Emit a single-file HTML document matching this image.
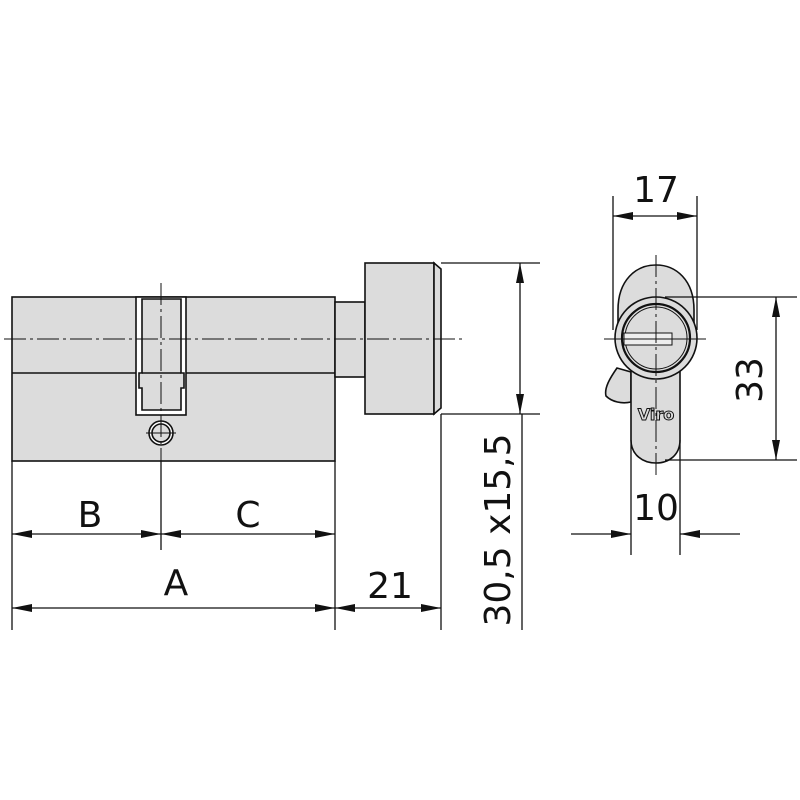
<!DOCTYPE html>
<html><head><meta charset="utf-8"><style>
html,body{margin:0;padding:0;background:#fff;}
svg{display:block;}
text{font-family:"DejaVu Sans","Liberation Sans",sans-serif;fill:#111;}
</style></head><body>
<svg width="800" height="800" viewBox="0 0 800 800" xmlns="http://www.w3.org/2000/svg">
<defs>
<marker id="ar" viewBox="0 0 20 8" refX="20" refY="4" markerWidth="20" markerHeight="8" markerUnits="userSpaceOnUse" orient="auto-start-reverse">
<path d="M0,0 L20,4 L0,8 z" fill="#111"/></marker>
</defs>
<g stroke="#111" stroke-width="1.6" fill="#dcdcdc">
<!-- body -->
<rect x="12" y="297" width="323" height="164"/>
<line x1="12" y1="373" x2="136" y2="373"/>
<line x1="186" y1="373" x2="335" y2="373"/>
<!-- slot -->
<rect x="136" y="297" width="50" height="118" fill="#fff"/>
<path d="M142,299 L181,299 L181,373 L184,373 L184,388 L181,388 L181,410 L142,410 L142,388 L139,388 L139,373 L142,373 Z" fill="#dcdcdc"/>
<line x1="142" y1="373" x2="181" y2="373"/>
<!-- pin -->
<circle cx="161" cy="433" r="12" fill="#fff"/>
<circle cx="161" cy="433" r="9"/>
<!-- neck -->
<rect x="335" y="302" width="30" height="75"/>
<!-- knob -->
<rect x="365" y="263" width="69" height="151"/>
<path d="M434,263 L441,269 L441,408 L434,414 Z"/>
</g>
<!-- center lines -->
<g stroke="#111" stroke-width="1" stroke-dasharray="22,4,3,4" fill="none">
<line x1="4" y1="339" x2="466" y2="339"/>
<line x1="161" y1="283" x2="161" y2="470"/>
</g>
<line x1="146" y1="433" x2="176" y2="433" stroke="#111" stroke-width="1"/>
<!-- dims left -->
<g stroke="#111" stroke-width="1.3" fill="none">
<line x1="12" y1="461" x2="12" y2="630"/>
<line x1="161" y1="461" x2="161" y2="550"/>
<line x1="335" y1="461" x2="335" y2="630"/>
<line x1="441" y1="414" x2="441" y2="630"/>
<line x1="12" y1="534" x2="161" y2="534" marker-start="url(#ar)" marker-end="url(#ar)"/>
<line x1="161" y1="534" x2="335" y2="534" marker-start="url(#ar)" marker-end="url(#ar)"/>
<line x1="12" y1="608" x2="335" y2="608" marker-start="url(#ar)" marker-end="url(#ar)"/>
<line x1="335" y1="608" x2="441" y2="608" marker-start="url(#ar)" marker-end="url(#ar)"/>
<line x1="441" y1="263" x2="540" y2="263"/>
<line x1="441" y1="414" x2="540" y2="414"/>
<line x1="520" y1="263" x2="520" y2="414" marker-start="url(#ar)" marker-end="url(#ar)"/>
<line x1="522" y1="414" x2="522" y2="630"/>
</g>
<g font-size="36">
<text x="90" y="527" text-anchor="middle">B</text>
<text x="248" y="527" text-anchor="middle">C</text>
<text x="176" y="595" text-anchor="middle">A</text>
<text x="390" y="598" text-anchor="middle">21</text>
<text transform="translate(510,530) rotate(-90)" text-anchor="middle">30,5 x15,5</text>
</g>
<!-- side view -->
<g stroke="#111" stroke-width="1.6" fill="#dcdcdc">
<path d="M617,368 C610,378 604,388 606,396 C612,402 622,404 631,402 L631,372 Z"/>
<path d="M618,310 C618,280 636,265 656,265 C676,265 694,280 694,310 L694,345 L618,345 Z"/>
<path d="M631,360 L631,440 C631,455 643,463 656,463 C669,463 680,455 680,440 L680,360 Z"/>
<circle cx="656" cy="338" r="41"/>
<circle cx="656" cy="338" r="34" stroke-width="2.2"/>
<circle cx="656" cy="338" r="31" fill="none" stroke-width="1"/>
<rect x="624" y="333" width="48" height="12" fill="#eee" stroke-width="1"/>
</g>
<text x="656" y="420" text-anchor="middle" font-size="16" font-weight="bold" fill="#dcdcdc" stroke="#111" stroke-width="1" style="fill:#dcdcdc">Viro</text>
<g stroke="#111" stroke-width="1" stroke-dasharray="22,4,3,4" fill="none">
<line x1="656" y1="255" x2="656" y2="475"/>
</g>
<line x1="604" y1="339" x2="706" y2="339" stroke="#111" stroke-width="1"/>
<g stroke="#111" stroke-width="1.3" fill="none">
<line x1="613" y1="196" x2="613" y2="330"/>
<line x1="697" y1="196" x2="697" y2="330"/>
<line x1="613" y1="216" x2="697" y2="216" marker-start="url(#ar)" marker-end="url(#ar)"/>
<line x1="665" y1="297" x2="797" y2="297"/>
<line x1="665" y1="460" x2="797" y2="460"/>
<line x1="776" y1="297" x2="776" y2="460" marker-start="url(#ar)" marker-end="url(#ar)"/>
<line x1="631" y1="440" x2="631" y2="555"/>
<line x1="680" y1="440" x2="680" y2="555"/>
<line x1="571" y1="534" x2="631" y2="534" marker-end="url(#ar)"/>
<line x1="740" y1="534" x2="680" y2="534" marker-end="url(#ar)"/>
</g>
<g font-size="36">
<text x="656" y="202" text-anchor="middle">17</text>
<text transform="translate(762,380) rotate(-90)" text-anchor="middle">33</text>
<text x="656" y="520" text-anchor="middle">10</text>
</g>
</svg>
</body></html>
